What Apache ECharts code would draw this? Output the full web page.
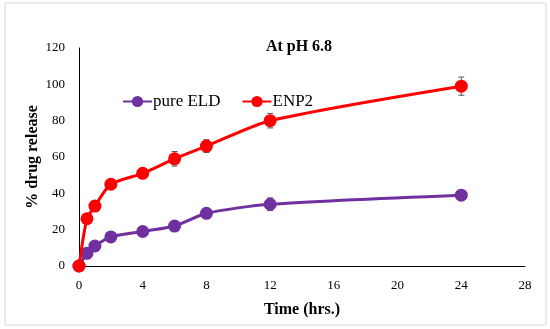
<!DOCTYPE html>
<html><head><meta charset="utf-8">
<script src="https://cdn.jsdelivr.net/npm/echarts@6/dist/echarts.min.js"></script>
<style>html,body{margin:0;padding:0;background:#fff}#c{width:550px;height:329px}</style>
</head><body><div id="c"></div>
<script>
var times = [0, 0.5, 1, 2, 4, 6, 8, 12, 24];
var pureELD = [0, 7, 11, 16, 19, 22, 29, 34, 39];
var pureELDErr = [0, 1, 1, 1, 1, 2, 1, 3.5, 1.5];
var enp2 = [0, 26, 33, 45, 51, 59, 66, 80, 99];
var enp2Err = [0, 1.5, 1.5, 1.5, 1, 4, 3.5, 4, 5];
var xTicks = [0, 4, 8, 12, 16, 20, 24, 28];
var yTicks = [0, 20, 40, 60, 80, 100, 120];

var font = '"Liberation Serif", "DejaVu Serif", serif';
function pts(v){ return times.map(function(t,i){ return [t, v[i]]; }); }
function errData(v, e){ return times.map(function(t,i){ return [t, v[i]-e[i], v[i]+e[i]]; }); }
function errSeries(v, e){
  return {
    type: 'custom', z: 1, silent: true,
    data: errData(v, e),
    renderItem: function(params, api){
      var lo = api.coord([api.value(0), api.value(1)]);
      var hi = api.coord([api.value(0), api.value(2)]);
      var w = 3;
      var st = {stroke: '#555', lineWidth: 1};
      return {type: 'group', children: [
        {type: 'line', shape: {x1: lo[0], y1: lo[1], x2: hi[0], y2: hi[1]}, style: st},
        {type: 'line', shape: {x1: lo[0]-w, y1: lo[1], x2: lo[0]+w, y2: lo[1]}, style: st},
        {type: 'line', shape: {x1: hi[0]-w, y1: hi[1], x2: hi[0]+w, y2: hi[1]}, style: st}
      ]};
    }
  };
}
var chart = echarts.init(document.getElementById('c'));
chart.setOption({
  animation: false,
  graphic: [{type: 'rect', shape: {x: 5, y: 3, width: 541, height: 322}, style: {fill: 'none', stroke: '#d9d9d9', lineWidth: 1}}],
  title: {text: 'At pH 6.8', left: 294, top: 34, textAlign: 'center',
    textStyle: {fontFamily: font, fontWeight: 'bold', fontSize: 16, color: '#000'}},
  legend: {left: 117, top: 88, itemGap: 21, itemWidth: 29, itemHeight: 14,
    data: ['pure ELD', 'ENP2'],
    textStyle: {fontFamily: font, fontSize: 17, color: '#000', padding: [0,0,0,-4]}},
  grid: {left: 79, right: 25, top: 48, bottom: 63},
  xAxis: {type: 'value', min: 0, max: 28, interval: 4,
    name: 'Time (hrs.)', nameLocation: 'middle', nameGap: 36, nameMoveOverlap: false,
    nameTextStyle: {fontFamily: font, fontWeight: 'bold', fontSize: 16, color: '#000'},
    axisLine: {lineStyle: {color: '#000', width: 1}},
    axisTick: {show: false}, splitLine: {show: false},
    axisLabel: {fontFamily: font, fontSize: 13, color: '#000', margin: 13}},
  yAxis: {type: 'value', min: 0, max: 120, interval: 20,
    name: '% drug release', nameLocation: 'middle', nameGap: 38, nameMoveOverlap: false,
    nameTextStyle: {fontFamily: font, fontWeight: 'bold', fontSize: 16, color: '#000'},
    axisLine: {show: true, lineStyle: {color: '#000', width: 1}},
    axisTick: {show: false}, splitLine: {show: false},
    axisLabel: {fontFamily: font, fontSize: 13, color: '#000', margin: 14}},
  series: [
    errSeries(pureELD, pureELDErr),
    errSeries(enp2, enp2Err),
    {name: 'pure ELD', type: 'line', smooth: 0.25, data: pts(pureELD), z: 3,
      symbol: 'circle', symbolSize: 13, color: '#7030A0',
      lineStyle: {width: 3, color: '#7030A0'}, itemStyle: {color: '#7030A0'}},
    {name: 'ENP2', type: 'line', smooth: 0.25, data: pts(enp2), z: 4,
      symbol: 'circle', symbolSize: 13, color: '#FF0000',
      lineStyle: {width: 3, color: '#FF0000'}, itemStyle: {color: '#FF0000'}}
  ]
});
</script></body></html>
